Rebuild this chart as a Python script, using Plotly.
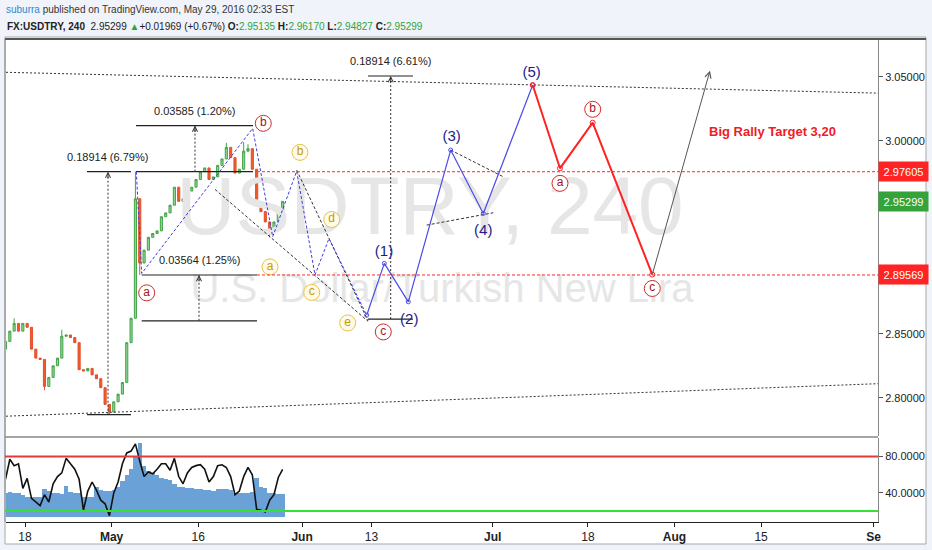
import pandas as pd
import plotly.graph_objects as go

# ---------------- data ----------------
bar_start = "2016-04-13 18:00"          # 12h candles, weekdays only
close_prices = [2.844, 2.852, 2.858, 2.852, 2.858, 2.855, 2.838, 2.831, 2.830, 2.809,
                2.816, 2.825, 2.831, 2.848, 2.849, 2.847, 2.843, 2.822, 2.821, 2.823,
                2.818, 2.815, 2.808, 2.795, 2.789, 2.797, 2.803, 2.812, 2.843, 2.862,
                2.955, 2.905, 2.915, 2.925, 2.928, 2.930, 2.941, 2.944, 2.950, 2.964,
                2.953, 2.955, 2.961, 2.964, 2.970, 2.976, 2.979, 2.970, 2.972, 2.981,
                2.986, 2.995, 2.987, 2.975, 2.978, 2.992, 2.994, 2.978, 2.950, 2.945,
                2.937, 2.930, 2.937, 2.945, 2.953]
first_open = 2.838
high_overrides = {30: 2.9761, 51: 2.9985, 55: 2.9990, 56: 2.9975, 2: 2.862, 13: 2.853}
low_overrides = {9: 2.8060, 24: 2.78696, 31: 2.8957, 61: 2.9250}

osc_line = [55, 77, 70, 72, 45, 56, 34, 30, 26, 38,
            30, 50, 58, 62, 78, 72, 66, 55, 21, 42,
            52, 43, 32, 28, 15, 40, 52, 72, 84, 86,
            94, 75, 58, 63, 61, 66, 72, 72, 65, 78,
            58, 50, 62, 68, 70, 71, 66, 52, 58, 70,
            71, 68, 58, 38, 42, 58, 68, 60, 22, 21,
            19, 32, 38, 57, 66]
osc_area = [40, 41, 40, 40, 38, 36, 35, 35, 35, 44,
            42, 40, 40, 39, 48, 41, 40, 40, 35, 36,
            35, 46, 43, 42, 42, 43, 47, 53, 60, 66,
            80, 95, 70, 64, 62, 60, 56, 55, 54, 50,
            46, 46, 45, 45, 44, 44, 43, 43, 42, 44,
            44, 44, 43, 40, 40, 40, 40, 41, 56, 47,
            45, 40, 40, 39, 39]
osc_area_base = 13
osc_upper_level = 80
osc_lower_level = 20

x_range = ["2016-04-13 19:21", "2016-09-01 12:00"]
x_tick_dates = ["2016-04-18", "2016-05-02", "2016-05-16", "2016-06-01", "2016-06-13",
                "2016-07-01", "2016-07-18", "2016-08-01", "2016-08-15", "2016-09-01"]
x_tick_text = ["18", "<b>May</b>", "16", "<b>Jun</b>", "13",
               "<b>Jul</b>", "18", "<b>Aug</b>", "15", "<b>Se</b>"]

# horizontal levels
level_start = "2016-05-24 19:00"
level_prices = [2.97605, 2.89569]
last_price = 2.95299

# long channel (dotted)
channel_upper = [3.0534, 3.0372]
channel_lower = [2.7858, 2.8111]

# wave paths
tri_dates = ["2016-05-04 20:27", "2016-05-05 11:26", "2016-05-24 07:02", "2016-05-26 14:28",
             "2016-05-31 08:58", "2016-06-02 11:41", "2016-06-06 02:30", "2016-06-10 10:58"]
tri_prices = [2.9761, 2.8969, 3.0098, 2.9254, 2.9765, 2.8957, 2.9241, 2.8644]

impulse_dates = ["2016-06-10 10:58", "2016-06-14 11:46", "2016-06-17 06:16",
                 "2016-06-24 03:46", "2016-06-29 22:06", "2016-07-07 15:02"]
impulse_prices = [2.8644, 2.9047, 2.8748, 2.9929, 2.9436, 3.0435]

corr_dates = ["2016-07-07 15:02", "2016-07-12 18:40", "2016-07-18 13:18", "2016-07-27 10:28"]
corr_prices = [3.0435, 2.9787, 3.0142, 2.8960]

rally_start = ("2016-07-27 10:28", 2.8960)
rally_end = ("2016-08-05 02:23", 3.0547)

trend_lines = [
    (["2016-05-17 22:33", "2016-06-10 14:34"], [2.9623, 2.8597]),
    (["2016-05-31 08:58", "2016-06-10 14:34"], [2.9773, 2.8601]),
    (["2016-06-24 03:46", "2016-07-04 05:32"], [2.9929, 2.9721]),
    (["2016-06-21 09:16", "2016-07-01 01:49"], [2.9345, 2.9441]),
]

# measuring tools: start, end, middle, low, high, label
measures = [
    ("2016-04-27 03:49", "2016-05-04 05:46", "2016-04-29 14:01", 2.78696, 2.97610, "0.18914 (6.79%)"),
    ("2016-05-04 19:38", "2016-05-24 07:52", "2016-05-13 15:07", 2.97610, 3.01195, "0.03585 (1.20%)"),
    ("2016-05-05 11:26", "2016-05-24 18:58", "2016-05-16 02:13", 2.86005, 2.89569, "0.03564 (1.25%)"),
    ("2016-06-10 14:34", "2016-06-17 19:17", "2016-06-15 05:30", 2.86140, 3.05054, "0.18914 (6.61%)"),
]

red_lbl_dates = ["2016-05-06 01:16", "2016-05-25 12:24", "2016-06-14 08:58",
                 "2016-07-12 18:40", "2016-07-18 13:18", "2016-07-27 10:28"]
red_lbl_prices = [2.8818, 3.0137, 2.8514, 2.9670, 3.0246, 2.8852]
red_lbl_text = ["a", "b", "c", "a", "b", "c"]

yel_lbl_dates = ["2016-05-31 18:07", "2016-05-26 06:59", "2016-06-02 02:33",
                 "2016-06-06 09:59", "2016-06-08 06:18"]
yel_lbl_prices = [2.9911, 2.9020, 2.8821, 2.9389, 2.8584]
yel_lbl_text = ["b", "a", "c", "d", "e"]

num_lbl_dates = ["2016-06-14 10:55", "2016-06-17 09:01", "2016-06-24 06:33",
                 "2016-06-29 22:06", "2016-07-07 12:14"]
num_lbl_prices = [2.9137, 2.8605, 3.0028, 2.9301, 3.0526]
num_lbl_text = ["(1)", "(2)", "(3)", "(4)", "(5)"]

target_text = "Big Rally Target 3,20"
target_pos = ("2016-08-16 08:58", 3.0077)

wm_main = ("USDTRY, 240", "2016-06-21 18:24", 2.9435)
wm_sub = ("U.S. Dollar/Turkish New Lira", "2016-06-23 03:39", 2.8827)

# ---------------- build ----------------
stamps = pd.date_range(bar_start, periods=200, freq="12h")
stamps = stamps[stamps.dayofweek < 5][:len(close_prices)]
opens = [first_open] + close_prices[:-1]
highs = [high_overrides.get(i, max(o, c)) for i, (o, c) in enumerate(zip(opens, close_prices))]
lows = [low_overrides.get(i, min(o, c)) for i, (o, c) in enumerate(zip(opens, close_prices))]

FONT = "Liberation Sans, Arial, sans-serif"
fig = go.Figure()

# watermark (behind everything)
fig.add_trace(go.Scatter(x=[wm_main[1]], y=[wm_main[2]], mode="text", text=[wm_main[0]],
                         textposition="middle center",
                         textfont=dict(family=FONT, size=82, color="#e6e6e6"),
                         hoverinfo="skip", xaxis="x", yaxis="y"))
fig.add_trace(go.Scatter(x=[wm_sub[1]], y=[wm_sub[2]], mode="text", text=[wm_sub[0]],
                         textposition="middle center",
                         textfont=dict(family=FONT, size=40, color="#e6e6e6"),
                         hoverinfo="skip", xaxis="x", yaxis="y"))

# channel
for ys in (channel_upper, channel_lower):
    fig.add_trace(go.Scatter(x=x_range, y=ys, mode="lines",
                             line=dict(color="#333", width=1, dash="2px,2px"),
                             hoverinfo="skip", yaxis="y"))

# measure tools
for d0, d1, dm, lo, hi, lbl in measures:
    for p in (lo, hi):
        fig.add_trace(go.Scatter(x=[d0, d1], y=[p, p], mode="lines",
                                 line=dict(color="#222", width=1.2), hoverinfo="skip", yaxis="y"))
    fig.add_trace(go.Scatter(x=[dm, dm], y=[lo, hi], mode="lines",
                             line=dict(color="#333", width=1, dash="2px,2px"),
                             hoverinfo="skip", yaxis="y"))

# candles
fig.add_trace(go.Candlestick(x=stamps, open=opens, high=highs, low=lows, close=close_prices,
                             increasing=dict(line=dict(color="#43a348", width=1), fillcolor="#8fd694"),
                             decreasing=dict(line=dict(color="#e4502a", width=1), fillcolor="#ee5a2c"),
                             whiskerwidth=0, hoverinfo="skip", xaxis="x", yaxis="y"))

# black dashed trend lines
for xs, ys in trend_lines:
    fig.add_trace(go.Scatter(x=xs, y=ys, mode="lines",
                             line=dict(color="#333", width=1, dash="3px,2px"),
                             hoverinfo="skip", yaxis="y"))

# blue dashed triangle path
fig.add_trace(go.Scatter(x=tri_dates, y=tri_prices, mode="lines",
                         line=dict(color="#3c3ce0", width=1, dash="3px,2px"),
                         hoverinfo="skip", yaxis="y"))
# impulse
fig.add_trace(go.Scatter(x=impulse_dates, y=impulse_prices, mode="lines+markers",
                         line=dict(color="#4b4be8", width=1.2),
                         marker=dict(symbol="circle-open", size=4, color="#4b4be8"),
                         hoverinfo="skip", yaxis="y"))
# correction
fig.add_trace(go.Scatter(x=corr_dates, y=corr_prices, mode="lines+markers",
                         line=dict(color="#ff2222", width=2),
                         marker=dict(symbol="circle-open", size=5, color="#ff2222"),
                         hoverinfo="skip", yaxis="y"))

# circle labels
fig.add_trace(go.Scatter(x=red_lbl_dates, y=red_lbl_prices, mode="markers+text", text=red_lbl_text,
                         textposition="middle center",
                         marker=dict(size=16, color="white", line=dict(color="#d22a2a", width=1)),
                         textfont=dict(family=FONT, size=12, color="#a3141a"),
                         hoverinfo="skip", yaxis="y"))
fig.add_trace(go.Scatter(x=yel_lbl_dates, y=yel_lbl_prices, mode="markers+text", text=yel_lbl_text,
                         textposition="middle center",
                         marker=dict(size=16, color="#fffbe8", line=dict(color="#e6c24a", width=1)),
                         textfont=dict(family=FONT, size=12, color="#c49a00"),
                         hoverinfo="skip", yaxis="y"))
fig.add_trace(go.Scatter(x=num_lbl_dates, y=num_lbl_prices, mode="text", text=num_lbl_text,
                         textposition="middle center",
                         textfont=dict(family=FONT, size=15, color="#1c1c8e"),
                         hoverinfo="skip", yaxis="y"))

# oscillator panel
fig.add_trace(go.Bar(x=stamps, y=[v - osc_area_base for v in osc_area], base=osc_area_base,
                     marker=dict(color="#6aa2d8", line=dict(width=0)),
                     hoverinfo="skip", xaxis="x", yaxis="y2"))
fig.add_trace(go.Scatter(x=stamps, y=osc_line, mode="lines",
                         line=dict(color="#111", width=1.6),
                         hoverinfo="skip", xaxis="x", yaxis="y2"))

# ---------------- shapes ----------------
def px_x(p):
    return (p - 6) / 872.0

def px_y(p):
    return (522 - p) / 484.0

shapes = [
    dict(type="rect", xref="paper", yref="paper", x0=px_x(5), x1=px_x(926), y0=px_y(544), y1=px_y(37),
         fillcolor="white", line=dict(color="#a8a8a8", width=1), layer="below"),
    dict(type="line", xref="paper", yref="paper", x0=px_x(5), x1=px_x(926), y0=px_y(39), y1=px_y(39),
         line=dict(color="#555", width=2)),
    dict(type="line", xref="paper", yref="paper", x0=px_x(5), x1=1, y0=px_y(437), y1=px_y(437),
         line=dict(color="#888", width=1.5)),
    dict(type="line", xref="paper", yref="paper", x0=px_x(5), x1=px_x(5), y0=0, y1=px_y(39),
         line=dict(color="#888", width=1)),
    dict(type="line", xref="paper", yref="y2", x0=px_x(5), x1=1, y0=osc_upper_level, y1=osc_upper_level,
         line=dict(color="#e23a3a", width=2)),
    dict(type="line", xref="paper", yref="y2", x0=px_x(5), x1=1, y0=osc_lower_level, y1=osc_lower_level,
         line=dict(color="#33e233", width=2)),
]
for lp in level_prices:
    shapes.append(dict(type="line", xref="x", yref="y", x0=level_start, x1=x_range[1], y0=lp, y1=lp,
                       line=dict(color="#ff2a2a", width=1, dash="3px,2px")))

# ---------------- annotations ----------------
ann = []
for d0, d1, dm, lo, hi, lbl in measures:
    ann.append(dict(x=dm, y=hi, xref="x", yref="y", text=lbl, showarrow=False, yshift=15,
                    font=dict(family=FONT, size=11, color="#222")))
    ann.append(dict(x=dm, y=hi, xref="x", yref="y", text="", showarrow=True, ax=0, ay=8,
                    arrowhead=5, arrowsize=1, arrowwidth=1, arrowcolor="#333", standoff=0))

ann.append(dict(x=rally_end[0], y=rally_end[1], xref="x", yref="y",
                ax=rally_start[0], ay=rally_start[1], axref="x", ayref="y",
                text="", showarrow=True, arrowhead=5, arrowsize=1.2, arrowwidth=1,
                arrowcolor="#555", standoff=0, startstandoff=0))

ann.append(dict(x=target_pos[0], y=target_pos[1], xref="x", yref="y", text="<b>" + target_text + "</b>",
                showarrow=False, font=dict(family=FONT, size=13, color="#ee1c25")))

level_boxes = [(level_prices[0], "#ff2323"), (last_price, "#34a33a"), (level_prices[1], "#ff2323")]
for p, col in level_boxes:
    ann.append(dict(x=1, y=p, xref="paper", yref="y", xanchor="left", yanchor="middle",
                    text="%.5f" % p, showarrow=False, bgcolor=col, width=45, height=15, borderpad=2,
                    font=dict(family=FONT, size=11, color="white")))

green = "#2ea43a"
ann.append(dict(x=px_x(4), y=px_y(10), xref="paper", yref="paper", xanchor="left", yanchor="middle",
                showarrow=False,
                text="<span style='color:#2b8ad0'>suburra</span> published on TradingView.com, May 29, 2016 02:33 EST",
                font=dict(family=FONT, size=10, color="#333")))
ann.append(dict(x=px_x(5), y=px_y(26), xref="paper", yref="paper", xanchor="left", yanchor="middle",
                showarrow=False,
                text=("<b>FX:USDTRY, 240</b>  2.95299 <span style='color:%s'>▲</span>+0.01969 (+0.67%%) "
                      "<b>O:</b><span style='color:%s'>2.95135</span> <b>H:</b><span style='color:%s'>2.96170</span> "
                      "<b>L:</b><span style='color:%s'>2.94827</span> <b>C:</b><span style='color:%s'>2.95299</span>")
                     % (green, green, green, green, green),
                font=dict(family=FONT, size=10, color="#222")))

fig.update_layout(
    width=932, height=550,
    margin=dict(l=6, r=54, t=38, b=28),
    paper_bgcolor="#f0f3fa", plot_bgcolor="rgba(0,0,0,0)",
    showlegend=False, bargap=0,
    font=dict(family=FONT, size=11, color="#222"),
    xaxis=dict(domain=[0, 1], anchor="y2", type="date", range=x_range,
               rangebreaks=[dict(bounds=["sat", "mon"])],
               tickvals=x_tick_dates, ticktext=x_tick_text,
               showgrid=False, zeroline=False, showline=True, linecolor="#222", linewidth=1,
               ticks="outside", ticklen=4, tickcolor="#222",
               tickfont=dict(family=FONT, size=12, color="#222"),
               rangeslider=dict(visible=False), fixedrange=True),
    yaxis=dict(domain=[px_y(436), 1], anchor="x", side="right", range=[2.7704, 3.0801],
               tick0=2.8, dtick=0.05, tickformat=".5f",
               showgrid=False, zeroline=False, showline=True, linecolor="#888", linewidth=1,
               ticks="outside", ticklen=4, tickcolor="#555",
               tickfont=dict(family=FONT, size=11, color="#222")),
    yaxis2=dict(domain=[0, px_y(438)], anchor="x", side="right", range=[8, 100.4],
                tickvals=[40, 80], tickformat=".4f",
                showgrid=False, zeroline=False, showline=True, linecolor="#888", linewidth=1,
                ticks="outside", ticklen=4, tickcolor="#555",
                tickfont=dict(family=FONT, size=11, color="#222")),
    shapes=shapes, annotations=ann,
)

fig.write_html("out.html", config={"displayModeBar": False},
               post_script="document.body.style.margin='0px';document.body.style.overflow='hidden';")
